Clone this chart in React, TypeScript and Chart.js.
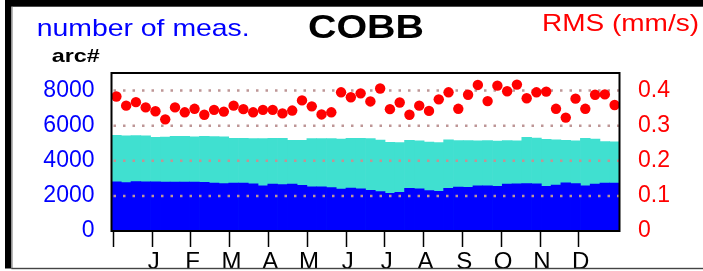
import React, { useEffect, useRef } from "react";
import { Chart, registerables } from "chart.js";

Chart.register(...registerables);

const weeks = [
  "1","2","3","4","5","6","7","8","9","10","11","12","13",
  "14","15","16","17","18","19","20","21","22","23","24","25","26",
  "27","28","29","30","31","32","33","34","35","36","37","38","39",
  "40","41","42","43","44","45","46","47","48","49","50","51","52",
];

const monthLabels = ["J","F","M","A","M","J","J","A","S","O","N","D"];

const leftTicks = [0, 2000, 4000, 6000, 8000];
const rightTicks = [0, 0.1, 0.2, 0.3, 0.4];
const rightTickLabels = ["0", "0.1", "0.2", "0.3", "0.4"];

// total number of measurements (turquoise)
const totalMeas = [
  5455, 5420, 5436, 5420, 5341, 5345, 5398, 5390, 5360, 5398, 5380, 5360, 5284,
  5284, 5265, 5265, 5284, 5284, 5170, 5170, 5265, 5265, 5265, 5230, 5284, 5284,
  5265, 5180, 5057, 5038, 5170, 5140, 5060, 5038, 5189, 5150, 5152, 5130, 5152,
  5120, 5152, 5130, 5341, 5290, 5227, 5200, 5170, 5130, 5284, 5230, 5100, 5076,
];

// arc measurements (blue)
const arcMeas = [
  2803, 2760, 2822, 2800, 2803, 2790, 2784, 2784, 2784, 2770, 2727, 2700, 2727,
  2727, 2680, 2576, 2670, 2640, 2670, 2600, 2519, 2519, 2480, 2386, 2443, 2400,
  2310, 2250, 2140, 2197, 2424, 2400, 2300, 2254, 2424, 2500, 2490, 2576, 2576,
  2550, 2670, 2689, 2708, 2680, 2540, 2614, 2746, 2700, 2576, 2670, 2727, 2727,
];

// RMS (mm/s), red dots
const rmsValues = [
  0.383, 0.357, 0.367, 0.352, 0.341, 0.318, 0.352, 0.338, 0.348, 0.331, 0.345, 0.340, 0.357,
  0.347, 0.338, 0.345, 0.345, 0.335, 0.343, 0.372, 0.355, 0.332, 0.338, 0.395, 0.381, 0.392,
  0.369, 0.406, 0.347, 0.366, 0.331, 0.357, 0.342, 0.375, 0.395, 0.348, 0.388, 0.416, 0.370,
  0.414, 0.398, 0.417, 0.378, 0.395, 0.397, 0.348, 0.323, 0.377, 0.348, 0.388, 0.389, 0.359,
];

const FONT = "'Liberation Sans', Arial, Helvetica, sans-serif";

function drawFitted(
  ctx: CanvasRenderingContext2D,
  text: string,
  x: number,
  baseline: number,
  font: string,
  color: string,
  width: number
) {
  ctx.save();
  ctx.font = font;
  const w = ctx.measureText(text).width;
  ctx.translate(x, baseline);
  ctx.scale(width / w, 1);
  ctx.fillStyle = color;
  ctx.textAlign = "left";
  ctx.textBaseline = "alphabetic";
  ctx.fillText(text, 0, 0);
  ctx.restore();
}

const decorPlugin = {
  id: "decor",
  beforeDatasetDraw(chart: any, args: any) {
    if (args.index !== 2) return;
    const { ctx, chartArea } = chart;
    const ys = chart.scales.y;
    ctx.save();
    ctx.strokeStyle = "rgb(190,150,150)";
    ctx.lineWidth = 2.5;
    ctx.setLineDash([2.5, 7]);
    ctx.beginPath();
    ys.ticks.forEach((t: any) => {
      if (t.value <= 0) return;
      const py = ys.getPixelForValue(t.value);
      ctx.moveTo(chartArea.left + 2, py);
      ctx.lineTo(chartArea.right, py);
    });
    ctx.stroke();
    ctx.restore();
  },
  afterDraw(chart: any) {
    const { ctx, chartArea } = chart;
    ctx.save();
    ctx.strokeStyle = "#000";
    ctx.lineWidth = 2;
    ctx.strokeRect(
      chartArea.left,
      chartArea.top,
      chartArea.right - chartArea.left,
      chartArea.bottom - chartArea.top
    );
    ctx.fillStyle = "#000";
    ctx.fillRect(5, 0, 698, 6.7);
    ctx.fillRect(5, 0, 6.3, 268.5);
    ctx.fillStyle = "#888";
    ctx.fillRect(11.3, 6.7, 1.3, 262);
    ctx.fillStyle = "#444";
    ctx.fillRect(11.3, 267.8, 692, 1.4);
    ctx.restore();

    drawFitted(ctx, "number of meas.", 36.7, 36, `24px ${FONT}`, "#0000ff", 213);
    drawFitted(ctx, "COBB", 308, 37.5, `bold 33px ${FONT}`, "#000", 116);
    drawFitted(ctx, "RMS (mm/s)", 542, 31, `24px ${FONT}`, "#ff0000", 157);
    drawFitted(ctx, "arc#", 51.7, 61.7, `bold 19px ${FONT}`, "#000", 48);
  },
};

export default function App() {
  const ref = useRef<HTMLCanvasElement | null>(null);

  useEffect(() => {
    document.body.style.margin = "0";
    const canvas = ref.current;
    if (!canvas) return;
    Chart.defaults.font.family = FONT;

    const chart = new Chart(canvas, {
      type: "bar",
      data: {
        labels: weeks,
        datasets: [
          {
            type: "bar",
            label: "total",
            data: totalMeas,
            backgroundColor: "#40e0d0",
            borderWidth: 0,
            xAxisID: "x",
            yAxisID: "y",
            order: 3,
            grouped: false,
            categoryPercentage: 1,
            barPercentage: 1,
          } as any,
          {
            type: "bar",
            label: "arc",
            data: arcMeas,
            backgroundColor: "#0000ff",
            borderWidth: 0,
            xAxisID: "x",
            yAxisID: "y",
            order: 2,
            grouped: false,
            categoryPercentage: 1,
            barPercentage: 1,
          } as any,
          {
            type: "line",
            label: "RMS",
            data: rmsValues,
            showLine: false,
            pointRadius: 5.2,
            pointBackgroundColor: "#ff0000",
            pointBorderWidth: 0,
            pointBorderColor: "#ff0000",
            xAxisID: "x",
            yAxisID: "y2",
            order: 1,
          } as any,
        ],
      },
      options: {
        animation: false,
        responsive: false,
        maintainAspectRatio: false,
        layout: { autoPadding: false, padding: { top: 73, left: 0, right: 0, bottom: 0 } } as any,
        plugins: {
          legend: { display: false },
          tooltip: { enabled: false },
          title: { display: false },
        },
        scales: {
          x: {
            type: "category",
            display: false,
            offset: true,
            grid: { display: false },
          },
          xm: {
            type: "linear",
            position: "bottom",
            min: 0,
            max: 12,
            afterBuildTicks: (s: any) => {
              s.ticks = monthLabels.map((_, i) => ({ value: i }));
            },
            afterFit: (s: any) => {
              s.height = 40;
            },
            border: { display: false },
            grid: {
              drawOnChartArea: false,
              drawTicks: true,
              tickLength: 16,
              tickColor: "#000",
              tickWidth: 1.5,
            },
            ticks: {
              autoSkip: false,
              maxRotation: 0,
              minRotation: 0,
              padding: 1,
              labelOffset: 21.17,
              color: "#000",
              font: { size: 24 },
              callback: (v: any, i: number) => monthLabels[i] ?? "",
            },
          } as any,
          y: {
            type: "linear",
            position: "left",
            min: 0,
            max: 9000,
            afterFit: (s: any) => {
              s.width = 111.5;
            },
            afterBuildTicks: (s: any) => {
              s.ticks = leftTicks.map((v) => ({ value: v }));
            },
            border: { display: false },
            grid: { display: false, drawTicks: false },
            ticks: {
              autoSkip: false,
              padding: 17,
              color: "#0000ff",
              font: { size: 23 },
              callback: (v: any, i: number) => String(leftTicks[i]),
            },
          } as any,
          y2: {
            type: "linear",
            position: "right",
            min: 0,
            max: 0.45,
            afterFit: (s: any) => {
              s.width = 83.5;
            },
            afterBuildTicks: (s: any) => {
              s.ticks = rightTicks.map((v) => ({ value: v }));
            },
            border: { display: false },
            grid: { display: false, drawTicks: false },
            ticks: {
              autoSkip: false,
              padding: 18.5,
              color: "#ff0000",
              font: { size: 23 },
              callback: (v: any, i: number) => rightTickLabels[i],
            },
          } as any,
        },
      },
      plugins: [decorPlugin],
    });

    return () => chart.destroy();
  }, []);

  return (
    <div style={{ position: "absolute", left: 0, top: 0, width: 703, height: 271, background: "#fff" }}>
      <canvas ref={ref} width={703} height={271} style={{ display: "block", width: 703, height: 271 }} />
    </div>
  );
}
